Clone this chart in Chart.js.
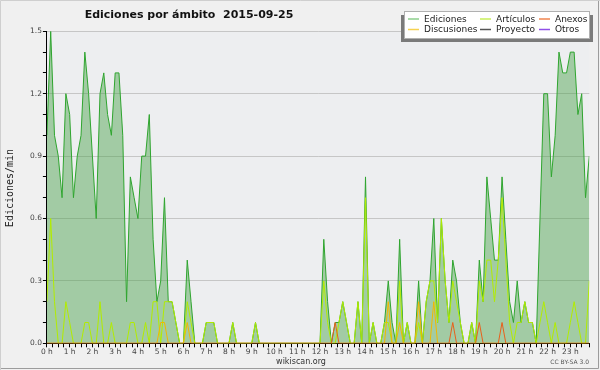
<!DOCTYPE html>
<html>
<head>
<meta charset="utf-8">
<script src="https://cdn.jsdelivr.net/npm/chart.js@4.4.1/dist/chart.umd.min.js"></script>
<style>
    html, body { margin: 0; padding: 0; background: #f0f0f0; }
    #wrap { width: 600px; height: 370px; }
</style>
</head>
<body>
<div id="wrap"><canvas id="chart" width="600" height="370"></canvas></div>
<script>
// --- Data: one sample every 10 minutes, edits per minute ---
const stepMinutes = 10;

const hourLabels = ['0 h', '1 h', '2 h', '3 h', '4 h', '5 h', '6 h', '7 h', '8 h', '9 h', '10 h', '11 h',
    '12 h', '13 h', '14 h', '15 h', '16 h', '17 h', '18 h', '19 h', '20 h', '21 h', '22 h', '23 h'];

const ediciones = [
    1.0, 1.5, 1.0, 0.9, 0.7, 1.2, 1.1, 0.7, 0.9, 1.0, 1.4, 1.2,
    0.9, 0.6, 1.2, 1.3, 1.1, 1.0, 1.3, 1.3, 1.0, 0.2, 0.8, 0.7,
    0.6, 0.9, 0.9, 1.1, 0.5, 0.2, 0.3, 0.7, 0.2, 0.2, 0.1, 0,
    0, 0.4, 0.2, 0, 0, 0, 0.1, 0.1, 0.1, 0, 0, 0,
    0, 0.1, 0, 0, 0, 0, 0, 0.1, 0, 0, 0, 0,
    0, 0, 0, 0, 0, 0, 0, 0, 0, 0, 0, 0,
    0, 0.5, 0.2, 0, 0.1, 0.1, 0.2, 0.1, 0, 0, 0.2, 0,
    0.8, 0, 0.1, 0, 0, 0.1, 0.3, 0.1, 0, 0.5, 0, 0.1,
    0, 0, 0.3, 0, 0.2, 0.3, 0.6, 0.1, 0.6, 0.3, 0.1, 0.4,
    0.3, 0.1, 0, 0, 0.1, 0, 0.4, 0.2, 0.8, 0.6, 0.4, 0.4,
    0.8, 0.5, 0.2, 0.1, 0.3, 0.1, 0.2, 0.1, 0.1, 0, 0.6, 1.2,
    1.2, 0.8, 1.0, 1.4, 1.3, 1.3, 1.4, 1.4, 1.1, 1.2, 0.7, 0.9
];

const articulos = [
    0.2, 0.6, 0.2, 0, 0, 0.2, 0.1, 0, 0, 0, 0.1, 0.1,
    0, 0, 0.2, 0, 0, 0.1, 0, 0, 0, 0, 0.1, 0.1,
    0, 0, 0.1, 0, 0.2, 0.2, 0, 0.2, 0.2, 0.2, 0.1, 0,
    0, 0.2, 0.1, 0, 0, 0, 0.1, 0.1, 0.1, 0, 0, 0,
    0, 0.1, 0, 0, 0, 0, 0, 0.1, 0, 0, 0, 0,
    0, 0, 0, 0, 0, 0, 0, 0, 0, 0, 0, 0,
    0, 0.3, 0.1, 0, 0, 0.1, 0.2, 0.1, 0, 0, 0.2, 0,
    0.7, 0, 0.1, 0, 0, 0.1, 0.1, 0, 0, 0.3, 0, 0.1,
    0, 0, 0.1, 0, 0.2, 0.3, 0.3, 0.1, 0.6, 0.3, 0.1, 0.3,
    0.2, 0.1, 0, 0, 0.1, 0, 0.3, 0.2, 0.4, 0.4, 0.2, 0.4,
    0.7, 0.4, 0.1, 0, 0.1, 0.1, 0.2, 0.1, 0.1, 0, 0.1, 0.2,
    0.1, 0, 0.1, 0, 0, 0, 0.1, 0.2, 0.1, 0, 0, 0.3
];

const anexos = [
    0, 0, 0, 0, 0, 0, 0, 0, 0, 0, 0, 0,
    0, 0, 0, 0, 0, 0, 0, 0, 0, 0, 0, 0,
    0, 0, 0, 0, 0, 0, 0, 0, 0, 0, 0, 0,
    0, 0, 0, 0, 0, 0, 0, 0, 0, 0, 0, 0,
    0, 0, 0, 0, 0, 0, 0, 0, 0, 0, 0, 0,
    0, 0, 0, 0, 0, 0, 0, 0, 0, 0, 0, 0,
    0, 0, 0, 0, 0.1, 0, 0, 0, 0, 0, 0, 0,
    0, 0, 0, 0, 0, 0, 0, 0, 0, 0, 0, 0,
    0, 0, 0, 0, 0, 0, 0, 0, 0, 0, 0, 0.1,
    0, 0, 0, 0, 0, 0, 0.1, 0, 0, 0, 0, 0,
    0.1, 0, 0, 0, 0, 0, 0, 0, 0, 0, 0, 0,
    0, 0, 0, 0, 0, 0, 0, 0, 0, 0, 0, 0
];

const discusiones = [
    0, 0, 0, 0, 0, 0, 0, 0, 0, 0, 0, 0,
    0, 0, 0, 0, 0, 0, 0, 0, 0, 0, 0, 0,
    0, 0, 0, 0, 0, 0, 0.1, 0.1, 0, 0, 0, 0,
    0, 0.1, 0, 0, 0, 0, 0, 0, 0, 0, 0, 0,
    0, 0, 0, 0, 0, 0, 0, 0, 0, 0, 0, 0,
    0, 0, 0, 0, 0, 0, 0, 0, 0, 0, 0, 0,
    0, 0, 0, 0, 0, 0, 0, 0, 0, 0, 0, 0,
    0, 0, 0, 0, 0, 0, 0.2, 0, 0, 0.1, 0, 0,
    0, 0, 0.2, 0, 0, 0, 0.2, 0, 0, 0, 0, 0,
    0, 0, 0, 0, 0, 0, 0, 0, 0, 0, 0, 0,
    0, 0, 0, 0, 0, 0, 0, 0, 0, 0, 0, 0,
    0, 0, 0, 0, 0, 0, 0, 0, 0, 0, 0, 0
];

// no samples for these two on this day, they only show in the legend
const proyecto = [];
const otros = [];

// --- Helpers ---
function toPoints(values) {
    return values.map((v, i) => ({ x: i * stepMinutes, y: v }));
}

function isMajor(v) {
    return Math.round(v * 10) % 3 === 0;
}

// --- Chrome: background, frame, title, axis title, footer, legend ---
const chrome = {
    id: 'chrome',
    beforeDraw(chart) {
        const ctx = chart.ctx;
        const a = chart.chartArea;
        ctx.save();
        ctx.fillStyle = '#f0f0f0';
        ctx.fillRect(0, 0, chart.width, chart.height);
        ctx.fillStyle = '#edeef0';
        ctx.fillRect(a.left, a.top, a.right - a.left, a.bottom - a.top);
        // outer frame
        ctx.strokeStyle = '#cfcfcf';
        ctx.lineWidth = 1;
        ctx.beginPath();
        ctx.moveTo(0.5, chart.height);
        ctx.lineTo(0.5, 0.5);
        ctx.lineTo(chart.width, 0.5);
        ctx.stroke();
        ctx.strokeStyle = '#9c9c9c';
        ctx.beginPath();
        ctx.moveTo(1, chart.height - 1.5);
        ctx.lineTo(chart.width - 1.5, chart.height - 1.5);
        ctx.lineTo(chart.width - 1.5, 1);
        ctx.stroke();
        ctx.restore();
    },
    afterDraw(chart) {
        const ctx = chart.ctx;
        ctx.save();

        // title
        ctx.fillStyle = '#111';
        ctx.font = 'bold 11px "DejaVu Sans"';
        ctx.textAlign = 'center';
        ctx.textBaseline = 'alphabetic';
        ctx.fillText('Ediciones por ámbito  2015-09-25', 189, 17.5);

        // vertical axis title
        ctx.save();
        ctx.translate(13, 188);
        ctx.rotate(-Math.PI / 2);
        ctx.font = '10px "DejaVu Sans Mono"';
        ctx.fillStyle = '#222';
        ctx.fillText('Ediciones/min', 0, 0);
        ctx.restore();

        // footer
        ctx.font = '8px "DejaVu Sans"';
        ctx.fillStyle = '#333';
        ctx.fillText('wikiscan.org', 301, 364);
        ctx.font = '6px "DejaVu Sans"';
        ctx.fillStyle = '#555';
        ctx.textAlign = 'right';
        ctx.fillText('CC BY-SA 3.0', 589, 364);

        // legend box with shadow
        ctx.fillStyle = '#7a7a7a';
        ctx.fillRect(401, 15, 192, 27);
        ctx.fillStyle = '#ffffff';
        ctx.fillRect(404, 11.5, 185, 27);
        ctx.strokeStyle = '#b0b0b0';
        ctx.lineWidth = 1;
        ctx.strokeRect(404.5, 11.5, 185, 27);

        const colX = [408, 480, 539];
        const rowY = [19, 29.5];
        ctx.font = '9px "DejaVu Sans"';
        ctx.textAlign = 'left';
        ctx.textBaseline = 'middle';
        chart.data.datasets.forEach((ds, k) => {
            const x = colX[k % 3];
            const y = rowY[Math.floor(k / 3)];
            ctx.strokeStyle = ds.legendColor;
            ctx.lineWidth = 1.5;
            ctx.beginPath();
            ctx.moveTo(x, y);
            ctx.lineTo(x + 11, y);
            ctx.stroke();
            ctx.fillStyle = '#222';
            ctx.fillText(ds.label, x + 16, y + 0.5);
        });
        ctx.restore();
    }
};

// --- Chart ---
const tickFont = { family: 'DejaVu Sans', size: 7.5 };

const lineDefaults = {
    borderWidth: 1,
    pointRadius: 0,
    tension: 0,
    fill: false
};

new Chart(document.getElementById('chart'), {
    type: 'line',
    data: {
        datasets: [
            { ...lineDefaults, label: 'Ediciones', data: toPoints(ediciones), borderColor: '#2fa52f',
              backgroundColor: 'rgba(70,160,70,0.45)', fill: 'origin', legendColor: '#8ccf8c', order: 6 },
            { ...lineDefaults, label: 'Artículos', data: toPoints(articulos), borderColor: '#b2ec00',
              legendColor: '#c8ef5a', order: 5 },
            { ...lineDefaults, label: 'Anexos', data: toPoints(anexos), borderColor: '#e8601c',
              legendColor: '#f0854f', order: 1 },
            { ...lineDefaults, label: 'Discusiones', data: toPoints(discusiones), borderColor: '#f2b800',
              legendColor: '#f6d250', order: 2 },
            { ...lineDefaults, label: 'Proyecto', data: toPoints(proyecto), borderColor: '#555555',
              legendColor: '#555555', order: 3 },
            { ...lineDefaults, label: 'Otros', data: toPoints(otros), borderColor: '#9050e8',
              legendColor: '#9050e8', order: 4 }
        ]
    },
    options: {
        responsive: false,
        animation: false,
        layout: { padding: { top: 31.3, right: 10.7, bottom: 0, left: 0 } },
        plugins: {
            legend: { display: false },
            tooltip: { enabled: false },
            title: { display: false }
        },
        scales: {
            x: {
                type: 'linear',
                min: 0,
                max: 1430,
                z: 2,
                afterFit: s => { s.height = 26.7; },
                border: { color: '#000', width: 1 },
                grid: { drawOnChartArea: false, tickColor: '#000', tickLength: 4 },
                ticks: {
                    stepSize: 15,
                    autoSkip: false,
                    maxRotation: 0,
                    padding: 0,
                    color: '#444',
                    font: tickFont,
                    callback: v => (v % 60 === 0 ? hourLabels[v / 60] : '')
                }
            },
            y: {
                min: 0,
                max: 1.5,
                z: 1,
                afterFit: s => { s.width = 46.9; },
                border: { color: '#000', width: 1 },
                grid: {
                    color: c => (isMajor(c.tick.value) ? '#c6c6c6' : 'rgba(0,0,0,0)'),
                    tickColor: '#000',
                    tickLength: 4
                },
                ticks: {
                    stepSize: 0.1,
                    autoSkip: false,
                    padding: 1,
                    color: '#444',
                    font: tickFont,
                    callback: v => (isMajor(v) ? v.toFixed(1) : '')
                }
            }
        }
    },
    plugins: [chrome]
});
</script>
</body>
</html>
